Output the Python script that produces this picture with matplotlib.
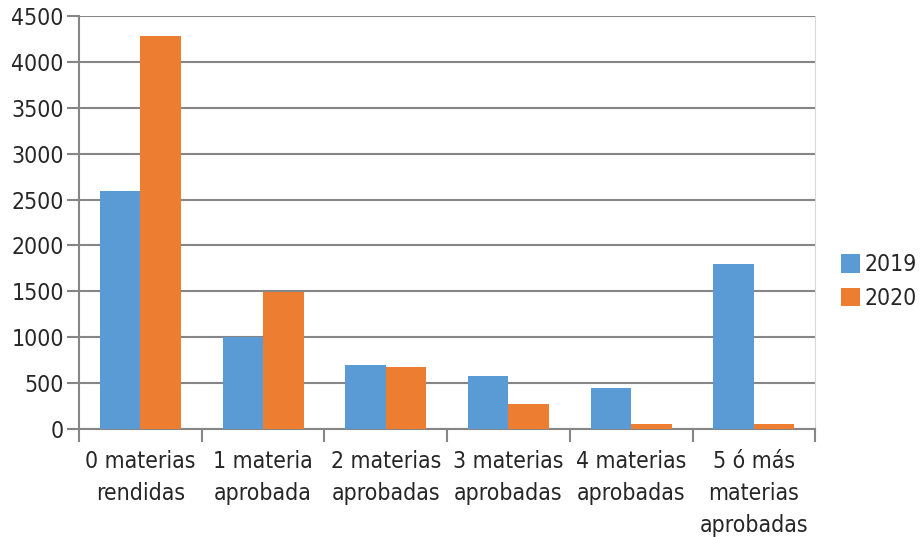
import matplotlib.pyplot as plt
import numpy as np

plt.rcParams['font.family'] = ['DejaVu Sans']
plt.rcParams['font.stretch'] = 'condensed'

categorias = ['0 materias\nrendidas', '1 materia\naprobada', '2 materias\naprobadas',
              '3 materias\naprobadas', '4 materias\naprobadas', '5 ó más\nmaterias\naprobadas']
anio_2019 = [2590, 1005, 700, 577, 443, 1795]
anio_2020 = [4280, 1497, 672, 272, 60, 50]

azul = '#5B9BD5'
naranja = '#ED7D31'
gris = '#868686'
texto = '#262626'

fig = plt.figure(figsize=(9.22, 5.37), dpi=100)
ax = fig.add_axes([0.0857, 0.2011, 0.7985, 0.7691])

x = np.arange(len(categorias))
w = 0.33
ax.bar(x - w / 2, anio_2019, w, color=azul, label='2019', zorder=3)
ax.bar(x + w / 2, anio_2020, w, color=naranja, label='2020', zorder=3)

ax.set_xlim(-0.5, len(categorias) - 0.5)
ax.set_ylim(0, 4500)
ax.set_yticks(np.arange(0, 4501, 500))
ax.yaxis.grid(True, color=gris, linewidth=1.5, zorder=0)
ax.tick_params(axis='y', length=9, width=1.5, color=gris, labelsize=16.5, pad=2,
               labelcolor=texto)

# tick marks between categories, labels at centres
ax.set_xticks(np.arange(-0.5, len(categorias), 1.0))
ax.set_xticklabels([])
ax.set_xticks(x, minor=True)
ax.set_xticklabels(categorias, minor=True, fontsize=16.5, linespacing=1.5, color=texto)
ax.tick_params(axis='x', which='major', length=9, width=1.5, color=gris)
ax.tick_params(axis='x', which='minor', length=0, pad=15)

ax.spines['top'].set_visible(False)
ax.spines['right'].set_color('#D9D9D9')
ax.spines['left'].set_color(gris)
ax.spines['left'].set_linewidth(1.5)
ax.spines['bottom'].set_color(gris)
ax.spines['bottom'].set_linewidth(1.5)

leg = fig.legend(loc='upper left', bbox_to_anchor=(0.912, 0.528), frameon=False,
                 fontsize=16.5, handlelength=0.85, handleheight=0.85, handletextpad=0.2,
                 labelspacing=0.45, borderaxespad=0, borderpad=0)
for t in leg.get_texts():
    t.set_color(texto)

fig.savefig('out.png', dpi=100)
